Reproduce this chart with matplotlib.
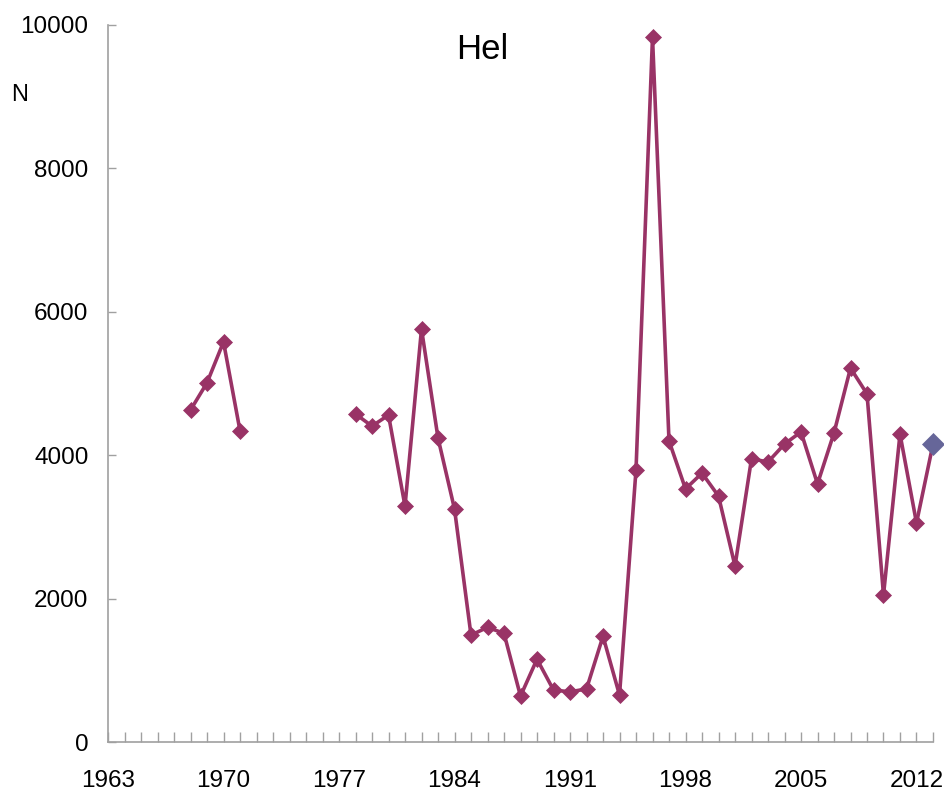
import numpy as np
import matplotlib.pyplot as plt

plt.rcParams['font.family'] = ['Liberation Sans', 'DejaVu Sans']

# Hel counts per year (gap 1972-1977)
years = list(range(1968, 2013))
counts = [4630, 5010, 5580, 4340,
          np.nan, np.nan, np.nan, np.nan, np.nan, np.nan,
          4575, 4405, 4560, 3290, 5760, 4240, 3250, 1490, 1600, 1515,
          640, 1155, 725, 700, 740, 1475, 655, 3795, 9830, 4200,
          3530, 3750, 3430, 2455, 3950, 3905, 4155, 4325, 3600, 4310,
          5215, 4855, 2050, 4295, 3055]
last_year = 2013
last_count = 4155
tick_years = [1963, 1970, 1977, 1984, 1991, 1998, 2005, 2012]
y_ticks = [0, 2000, 4000, 6000, 8000, 10000]

line_col = '#993366'
last_col = '#666699'
axis_col = '#a0a0a0'

fig = plt.figure(figsize=(9.45, 7.93), dpi=100)
ax = fig.add_axes([0.1143, 0.0643, 0.8730, 0.9042])

# connect final year to previous point
ax.plot([years[-1], last_year], [counts[-1], last_count], color=line_col, lw=2.6, zorder=2)
ax.plot(years, counts, color=line_col, lw=2.6, marker='D', markersize=8.0,
        markeredgewidth=0.5, markeredgecolor=line_col, zorder=3)
ax.plot([last_year], [last_count], ls='none', marker='D', markersize=11,
        color=last_col, markeredgewidth=0.5, zorder=4, clip_on=False)

ax.set_xlim(1963, 2013)
ax.set_ylim(0, 10000)
ax.set_xticks(tick_years)
ax.set_xticks(range(1963, 2014), minor=True)
ax.set_yticks(y_ticks)

for s in ['top', 'right']:
    ax.spines[s].set_visible(False)
for s in ['left', 'bottom']:
    ax.spines[s].set_color(axis_col)
    ax.spines[s].set_linewidth(1.2)

ax.tick_params(axis='both', which='both', direction='in', color=axis_col, width=1.0,
               labelsize=17.5)
ax.tick_params(axis='x', which='both', length=7, pad=20)
ax.tick_params(axis='y', which='major', length=6, pad=14)

fig.text(0.51, 0.937, 'Hel', fontsize=25, ha='center', va='center')
fig.text(0.021, 0.88, 'N', fontsize=17, ha='center', va='center')

fig.savefig('out.png', dpi=100)
